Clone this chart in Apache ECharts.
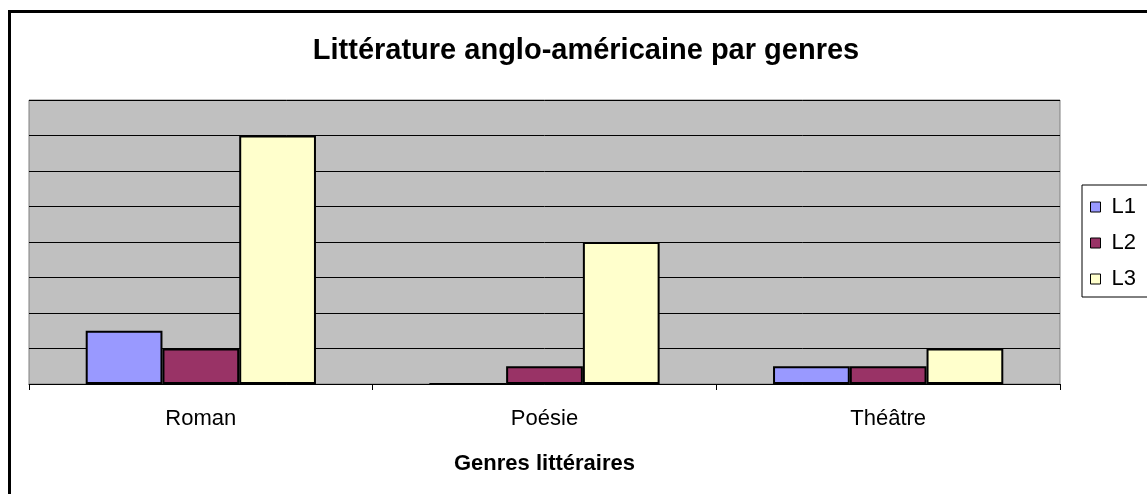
<!DOCTYPE html>
<html>
<head>
<meta charset="utf-8">
<script src="https://cdn.jsdelivr.net/npm/echarts@6/dist/echarts.min.js"></script>
<style>
  html, body { margin: 0; padding: 0; background: #fff; }
  #chart { width: 1147px; height: 494px; }
</style>
</head>
<body>
<div id="chart"></div>
<script>
// genres et séries
var genres = ["Roman", "Poésie", "Théâtre"];
var l1 = [1.5, 0, 0.5];
var l2 = [1, 0.5, 0.5];
var l3 = [7, 4, 1];

var chart = echarts.init(document.getElementById('chart'));
var font = 'Arial, "Liberation Sans", sans-serif';

function barSerie(name, data, color) {
    return {
        name: name,
        type: "bar",
        data: data,
        barGap: "0%",
        barCategoryGap: "33%",
        itemStyle: { color: color, borderColor: "#000", borderWidth: 2 },
        emphasis: { disabled: true }
    };
}

var option = {
    animation: false,
    textStyle: { fontFamily: font },
    graphic: [{
        type: "rect",
        shape: { x: 9.5, y: 11.5, width: 1300, height: 700 },
        style: { fill: null, stroke: "#000", lineWidth: 3 },
        silent: true
    }],
    title: {
        text: "Littérature anglo-américaine par genres",
        left: 581,
        textAlign: "center",
        top: 31,
        textStyle: { fontFamily: font, fontSize: 29, fontWeight: "bold", color: "#000" }
    },
    legend: {
        orient: "vertical",
        left: 1082,
        top: 185,
        padding: [11, 40, 7, 8],
        itemGap: 14,
        itemWidth: 10,
        itemHeight: 10,
        icon: "rect",
        borderColor: "#000",
        borderWidth: 1,
        backgroundColor: "#fff",
        textStyle: { fontFamily: font, fontSize: 22, color: "#000", padding: [0, 0, 0, 6] },
        itemStyle: { borderColor: "#000", borderWidth: 1 },
        data: ["L1", "L2", "L3"]
    },
    grid: {
        left: 29,
        top: 100,
        width: 1031,
        height: 284,
        show: true,
        backgroundColor: "#C0C0C0",
        borderColor: "#808080",
        borderWidth: 1,
        containLabel: false
    },
    xAxis: {
        type: "category",
        data: genres,
        name: "Genres littéraires",
        nameLocation: "middle",
        nameGap: 69,
        nameTextStyle: { fontFamily: font, fontSize: 22, fontWeight: "bold", color: "#000" },
        axisLine: { lineStyle: { color: "#000", width: 1 } },
        axisTick: { show: true, length: 6, lineStyle: { color: "#000" } },
        axisLabel: { fontFamily: font, fontSize: 22, color: "#000", margin: 24 }
    },
    yAxis: {
        type: "value",
        min: 0,
        max: 8,
        interval: 1,
        axisLine: { show: false },
        axisTick: { show: false },
        axisLabel: { show: false },
        splitLine: { lineStyle: { color: "#000", width: 1 } }
    },
    series: [
        barSerie("L1", l1, "#9999FF"),
        barSerie("L2", l2, "#993366"),
        barSerie("L3", l3, "#FFFFCC")
    ]
};
chart.setOption(option);
</script>
</body>
</html>
